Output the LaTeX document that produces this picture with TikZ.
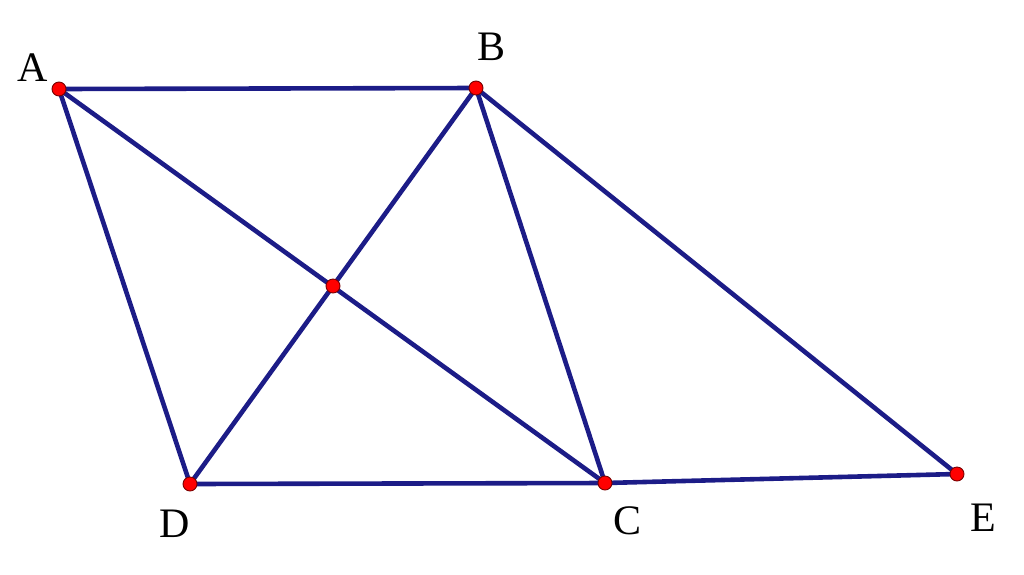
\documentclass[tikz,border=0pt]{standalone}
\usepackage{fontspec}
\setmainfont{Liberation Serif}
\definecolor{navy}{RGB}{28,28,135}
\definecolor{dotred}{RGB}{255,0,0}
\definecolor{dotedge}{RGB}{120,0,0}
\tikzset{
  seg/.style={draw=navy,line width=4.6pt},
  pt/.style={circle,fill=dotred,draw=dotedge,line width=0.9pt,inner sep=0pt,minimum size=14pt},
  lbl/.style={font=\fontsize{42}{42}\selectfont,inner sep=0pt}
}
\begin{document}
\begin{tikzpicture}[x=1pt,y=-1pt]
\useasboundingbox (0,0) rectangle (1024,574);
\coordinate (A) at (59,89);
\coordinate (B) at (476,88);
\coordinate (O) at (333,286);
\coordinate (D) at (190,484);
\coordinate (C) at (605,483);
\coordinate (E) at (957,474);
\draw[seg] (A) -- (B) -- (E) -- (C) -- (D) -- cycle;
\draw[seg] (A) -- (C);
\draw[seg] (B) -- (D);
\draw[seg] (B) -- (C);
\foreach \p in {A,B,O,D,C,E} \node[pt] (d\p) at (\p) {};
\node[lbl] (lA) at (33,68) {A};
\node[lbl] (lB) at (491,47) {B};
\node[lbl] (lD) at (175,524) {D};
\node[lbl] (lC) at (627,521) {C};
\node[lbl] (lE) at (983,518) {E};
\end{tikzpicture}
\end{document}
